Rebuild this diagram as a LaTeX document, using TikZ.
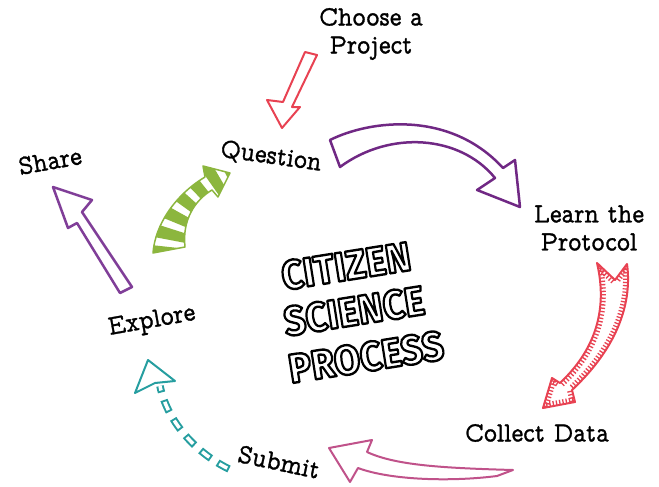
\documentclass[tikz,border=0pt]{standalone}
\usepackage{fontspec}
\newfontfamily\titlefont{Fira Sans}
\newfontfamily\typefont{lmmonoprop10-regular.otf}[FakeBold=1,FakeStretch=0.89]
\definecolor{cRed}{RGB}{232,66,82}
\definecolor{cPurpleD}{RGB}{112,40,132}
\definecolor{cPurple}{RGB}{128,62,152}
\definecolor{cPink}{RGB}{192,82,138}
\definecolor{cTeal}{RGB}{38,158,160}
\definecolor{cGreen}{RGB}{140,182,62}
\newcommand{\outlined}[1]{\scalebox{1.0}[1.08]{\special{pdf:literal direct 2 Tr 2.2 w 0 G 1 j}#1\special{pdf:literal direct 0 Tr}}}
\begin{document}
\begin{tikzpicture}[x=1pt,y=-1pt,line join=round,line cap=round]
\tikzset{
  lbl/.style={font=\typefont\fontsize{28}{28}\selectfont, inner sep=0pt, align=center},
  ttl/.style={font=\titlefont\bfseries\fontsize{38}{40}\selectfont, inner sep=0pt, text=white},
  arr/.style={line width=2pt, fill=white}
}
\useasboundingbox (0,0) rectangle (659,487);

% Choose -> Question (red)
\draw[arr, draw=cRed] (305,52) -- (283,102) -- (267,100) -- (282,128) -- (300,107) -- (292,107) -- (317,55) -- cycle;

% Question -> Learn (purple curved)
\draw[arr, draw=cPurpleD, line width=2.5pt] (330,140) .. controls (370,120) and (450,110) .. (503,168) -- (515,160) -- (520,207) -- (477,190) -- (495,178) .. controls (460,135) and (390,130) .. (340,167) -- cycle;

% Learn -> Collect (red hatched)
\path[save path=\redp] (597,263) -- (615,280) -- (627,264) .. controls (632,300) and (620,345) .. (572,390) -- (575,402) -- (543,408) -- (552,378) -- (560,383) .. controls (595,350) and (608,310) .. (597,263) -- cycle;
\fill[white, use path=\redp];
\begin{scope}
  \clip[use path=\redp];
  \draw[use path=\redp, draw=cRed, line width=10pt, line cap=butt, dash pattern=on 1.3pt off 2pt];
\end{scope}
\draw[use path=\redp, draw=cRed, line width=2pt];

% Collect -> Submit (pink)
\draw[arr, draw=cPink] (513,470) .. controls (440,468) and (395,465) .. (367,452) -- (372,440) -- (329,448) -- (350,482) -- (358,468) .. controls (390,480) and (450,482) .. (497,476) -- cycle;

% Submit -> Explore (teal dashed)
\draw[draw=cTeal, line width=7.5pt, line cap=butt, dash pattern=on 13pt off 8pt] (229,469) .. controls (200,455) and (168,425) .. (160,386);
\draw[draw=white, line width=3.5pt, line cap=butt, dash pattern=on 0pt off 2pt on 9pt off 10pt] (229,469) .. controls (200,455) and (168,425) .. (160,386);
\draw[arr, draw=cTeal] (148,360) -- (175,381) -- (155,383) -- (135,393) -- cycle;

% Explore -> Share (purple)
\draw[arr, draw=cPurple, line width=2.5pt] (53,187) -- (92,200) -- (82,212) -- (132,287) -- (120,293) -- (77,223) -- (68,228) -- cycle;

% Explore -> Question (green striped)
\path[save path=\grp] (153,253) .. controls (155,225) and (175,195) .. (205,177) -- (203,166) -- (230,173) -- (218,197) -- (212,190) .. controls (195,200) and (182,220) .. (185,247) -- cycle;
\fill[white, use path=\grp];
\begin{scope}
  \clip[use path=\grp];
  \draw[draw=cGreen, line width=50pt, line cap=butt, dash pattern=on 11pt off 7pt] (169,258) .. controls (168,220) and (190,190) .. (228,171);
\end{scope}
\draw[use path=\grp, draw=cGreen, line width=1.5pt];

% labels
\node[lbl] (choose) at (371,34) {Choose a\\Project};
\node[lbl, rotate=-8] (question) at (271,157) {Question};
\node[lbl, rotate=10] (share) at (50,161) {Share};
\node[lbl] (learn) at (589,228) {Learn the\\Protocol};
\node[lbl, rotate=10] (explore) at (152,322) {Explore};
\node[lbl, rotate=-12] (submit) at (279,462) {Submit};
\node[lbl] (collect) at (537,433) {Collect Data};

% title
\node[ttl, rotate=9] (citizen) at (346,266) {\outlined{CITIZEN}};
\node[ttl, rotate=9] (science) at (354,311) {\outlined{SCIENCE}};
\node[ttl, rotate=9] (process) at (366,357) {\outlined{PROCESS}};
\end{tikzpicture}
\end{document}
